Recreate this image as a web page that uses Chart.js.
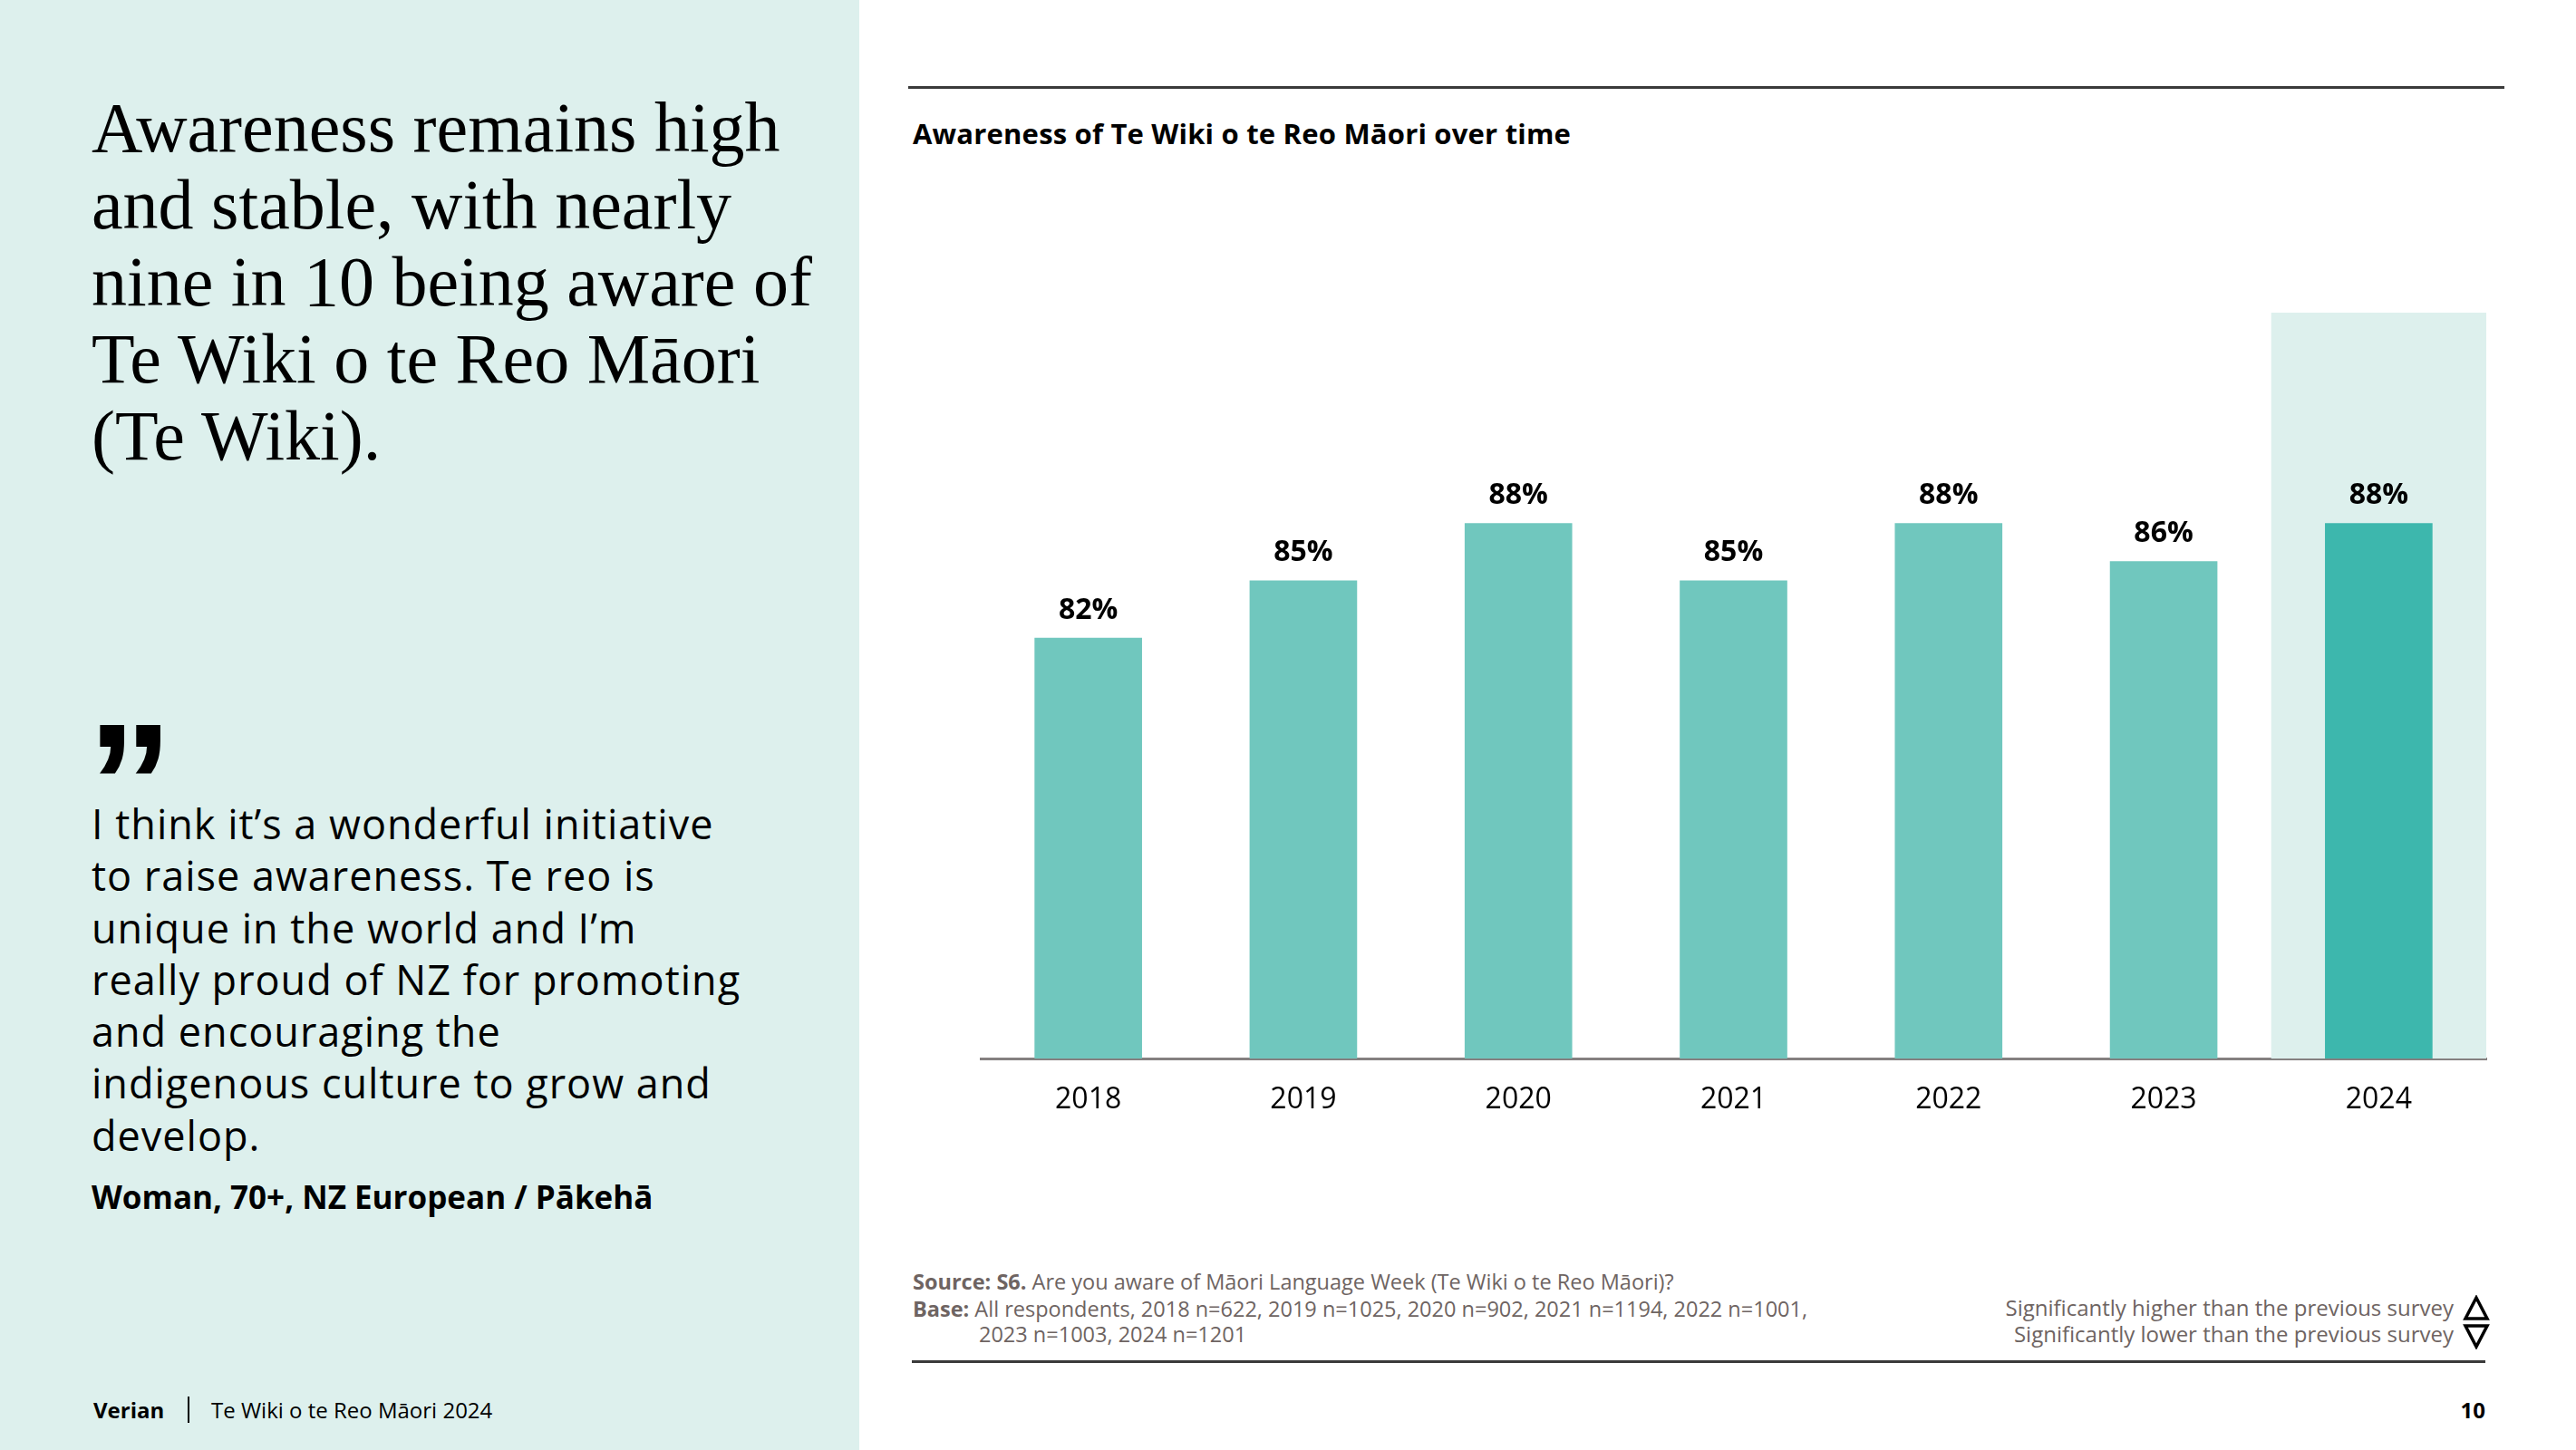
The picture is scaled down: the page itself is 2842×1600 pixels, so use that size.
<!DOCTYPE html>
<html>
<head>
<meta charset="utf-8">
<script src="https://cdn.jsdelivr.net/npm/chart.js@4.4.1/dist/chart.umd.min.js"></script>
<style>
  html, body { margin:0; padding:0; width:2842px; height:1600px; background:#ffffff; overflow:hidden; }
  body { position:relative; font-family:"Open Sans", sans-serif; color:#000; }
  .abs { position:absolute; white-space:nowrap; line-height:1; }
  #leftPanel { position:absolute; left:0; top:0; width:948px; height:1600px; background:#DDF0ED; }
  #headline { position:absolute; left:101px; top:98px; font-family:"Liberation Serif", serif; font-size:78px; line-height:85px; color:#000; white-space:nowrap; }
  #quoteMark { position:absolute; left:96px; top:769px; font-family:"Liberation Sans", sans-serif; font-weight:700; font-size:190px; line-height:1; }
  #quote { position:absolute; left:101px; top:880px; font-size:45px; letter-spacing:1px; line-height:57.3px; white-space:nowrap; }
  #attrib { left:101px; top:1303px; font-size:35px; font-weight:700; }
  .hr { position:absolute; background:#3a3a3a; }
  #chartTitle { left:1007px; top:132px; font-size:31px; letter-spacing:0.2px; font-weight:700; }
  #chartWrap { position:absolute; left:1000px; top:300px; width:1842px; height:950px; }
  .src { font-size:23.5px; color:#6E6462; }
  .legend { font-size:24px; color:#6E6462; text-align:right; }
</style>
</head>
<body>
<div id="leftPanel"></div>
<div id="headline">Awareness remains high<br>and stable, with nearly<br>nine in 10 being aware of<br>Te Wiki o te Reo Māori<br>(Te Wiki).</div>
<div id="quoteMark">”</div>
<div id="quote">I think it’s a wonderful initiative<br>to raise awareness. Te reo is<br>unique in the world and I’m<br>really proud of NZ for promoting<br>and encouraging the<br>indigenous culture to grow and<br>develop.</div>
<div id="attrib" class="abs">Woman, 70+, NZ European / Pākehā</div>

<div class="abs" style="left:103px; top:1544px; font-size:24px; font-weight:700;">Verian</div>
<div style="position:absolute; left:207px; top:1541px; width:2px; height:29px; background:#000;"></div>
<div class="abs" style="left:233px; top:1543.5px; font-size:24px;">Te Wiki o te Reo Māori 2024</div>
<div class="abs" style="left:2642px; width:100px; text-align:right; top:1544px; font-size:24px; font-weight:700;">10</div>

<div class="hr" style="left:1002px; top:95px; width:1761px; height:2.5px;"></div>
<div id="chartTitle" class="abs">Awareness of Te Wiki o te Reo Māori over time</div>

<div id="chartWrap"><canvas id="chart" width="1842" height="950"></canvas></div>

<div class="abs src" style="left:1007px; top:1403px;"><b>Source: S6.</b> Are you aware of Māori Language Week (Te Wiki o te Reo Māori)?</div>
<div class="abs src" style="left:1007px; top:1433px;"><b>Base:</b> All respondents, 2018 n=622, 2019 n=1025, 2020 n=902, 2021 n=1194, 2022 n=1001,</div>
<div class="abs src" style="left:1080px; top:1461px;">2023 n=1003, 2024 n=1201</div>
<div class="abs legend" style="left:1900px; width:807px; top:1431px;">Significantly higher than the previous survey</div>
<div class="abs legend" style="left:1900px; width:807px; top:1460px;">Significantly lower than the previous survey</div>
<svg style="position:absolute; left:2717px; top:1429px;" width="30" height="30"><polygon points="15,3 27,26 3,26" fill="none" stroke="#000" stroke-width="3.5" stroke-linejoin="miter"/></svg>
<svg style="position:absolute; left:2717px; top:1459px;" width="30" height="30"><polygon points="3,4 27,4 15,27" fill="none" stroke="#000" stroke-width="3.5" stroke-linejoin="miter"/></svg>
<div class="hr" style="left:1006px; top:1501px; width:1736px; height:3px;"></div>

<script>
const years = ["2018", "2019", "2020", "2021", "2022", "2023", "2024"];
const awareness = [82, 85, 88, 85, 88, 86, 88];
const valueLabels = ["82%", "85%", "88%", "85%", "88%", "86%", "88%"];
const highlightIndex = 6;

const barColor = "#70C7BE";
const barColorHighlight = "#3DB7AD";
const highlightBg = "#DDF0ED";

const highlightPlugin = {
  id: "highlightColumn",
  beforeDatasetsDraw(chart) {
    const meta = chart.getDatasetMeta(0);
    const bar = meta.data[highlightIndex];
    if (!bar) return;
    const xs = chart.scales.x;
    const catW = xs.getPixelForValue(1) - xs.getPixelForValue(0);
    const ctx = chart.ctx;
    const area = chart.chartArea;
    ctx.save();
    ctx.fillStyle = highlightBg;
    ctx.fillRect(bar.x - catW / 2, area.top, catW, area.bottom - area.top);
    ctx.restore();
  }
};

const labelPlugin = {
  id: "valueLabels",
  afterDatasetsDraw(chart) {
    const meta = chart.getDatasetMeta(0);
    const ctx = chart.ctx;
    ctx.save();
    ctx.font = "700 32px 'Open Sans'";
    ctx.fillStyle = "#000";
    ctx.textAlign = "center";
    ctx.textBaseline = "alphabetic";
    meta.data.forEach((bar, i) => {
      ctx.fillText(valueLabels[i], bar.x, bar.y - 21);
    });
    ctx.restore();
  }
};

new Chart(document.getElementById("chart"), {
  type: "bar",
  data: {
    labels: years,
    datasets: [{
      data: awareness,
      backgroundColor: awareness.map((v, i) => i === highlightIndex ? barColorHighlight : barColor),
      borderWidth: 0,
      categoryPercentage: 1.0,
      barPercentage: 0.5
    }]
  },
  options: {
    responsive: false,
    animation: false,
    devicePixelRatio: 1,
    layout: { padding: { left: 82, right: 99, top: 45, bottom: 0 } },
    plugins: { legend: { display: false }, tooltip: { enabled: false }, title: { display: false } },
    scales: {
      x: {
        grid: { display: false, drawTicks: false },
        border: { display: true, color: "#858080", width: 3 },
        ticks: { color: "#000", font: { family: "'Open Sans'", size: 32 }, padding: 27 },
        afterFit: (scale) => { scale.height = 82; }
      },
      y: {
        display: false,
        min: 60,
        max: 99
      }
    }
  },
  plugins: [highlightPlugin, labelPlugin]
});
</script>
</body>
</html>
